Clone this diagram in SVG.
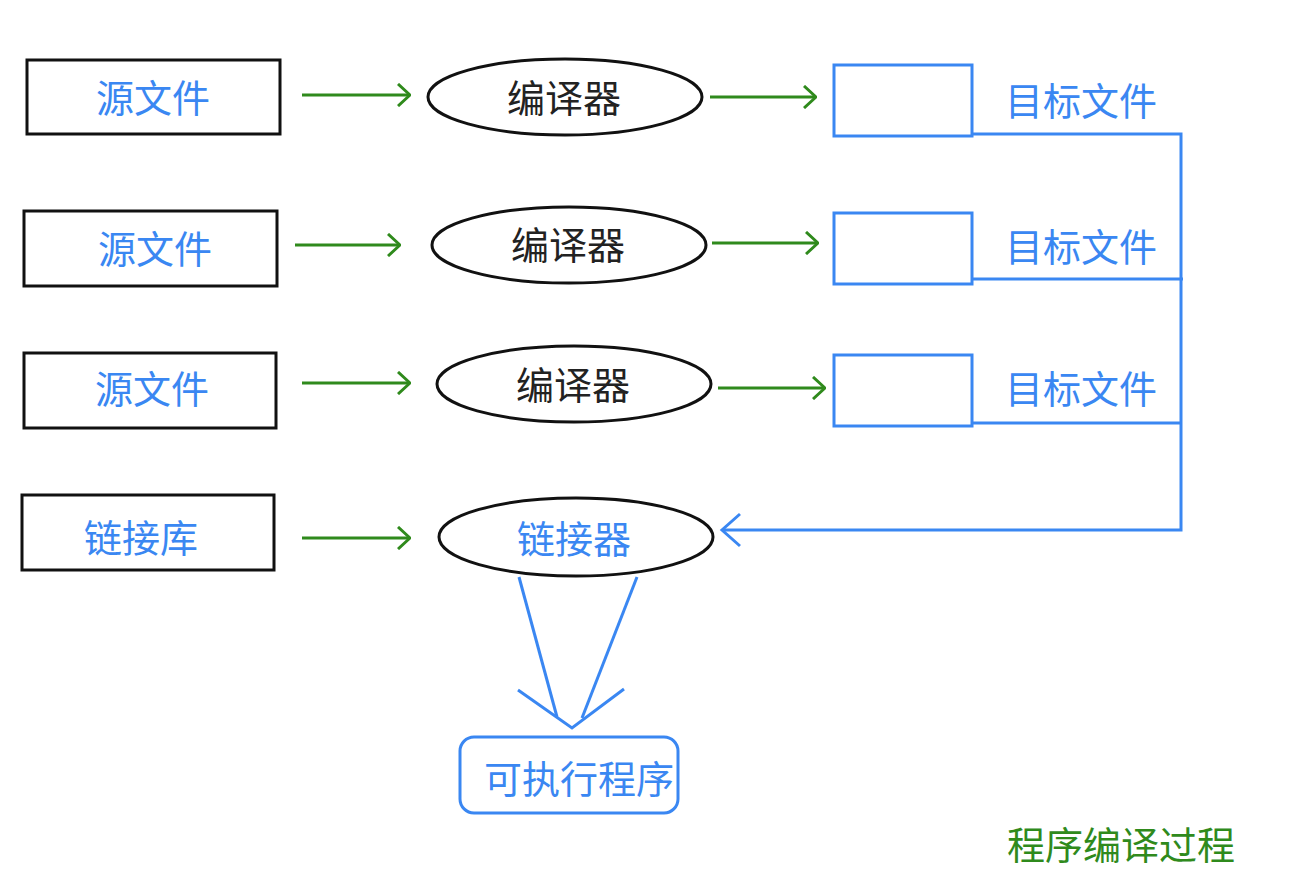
<svg xmlns="http://www.w3.org/2000/svg" width="1292" height="869" viewBox="0 0 1292 869">
<style>
.src{fill:#fff;stroke:#111;stroke-width:3}
.ell{fill:#fff;stroke:#111;stroke-width:3}
.obj{fill:#fff;stroke:#3a87f2;stroke-width:3}
.t{font-family:"Noto Sans CJK SC",sans-serif;font-size:38px;text-anchor:middle;dominant-baseline:central}
.blue{fill:#3a87f2}
.dark{fill:#222}
.green{fill:#2f8a1c}
.g{stroke:#2f8a1c;stroke-width:3;fill:none}
.b{stroke:#3a87f2;stroke-width:3;fill:none}
</style>
<defs>
<marker id="ga" viewBox="0 0 14 24" refX="13" refY="12" markerWidth="14" markerHeight="24" markerUnits="userSpaceOnUse" orient="auto">
<polyline points="1,1 13,12 1,23" fill="none" stroke="#2f8a1c" stroke-width="3"/>
</marker>
</defs>
<rect width="1292" height="869" fill="#fff"/>
<g id="connectors">
<line class="g" x1="302" y1="95" x2="410" y2="95" marker-end="url(#ga)"/>
<line class="g" x1="295" y1="245" x2="400" y2="245" marker-end="url(#ga)"/>
<line class="g" x1="302" y1="383" x2="410" y2="383" marker-end="url(#ga)"/>
<line class="g" x1="302" y1="538" x2="410" y2="538" marker-end="url(#ga)"/>
<line class="g" x1="710" y1="97" x2="816" y2="97" marker-end="url(#ga)"/>
<line class="g" x1="712" y1="243" x2="818" y2="243" marker-end="url(#ga)"/>
<line class="g" x1="718" y1="388" x2="825" y2="388" marker-end="url(#ga)"/>
<polyline class="b" points="972,134 1181,134 1181,530 722,530"/>
<line class="b" x1="972" y1="279" x2="1183" y2="279"/>
<line class="b" x1="972" y1="423" x2="1181" y2="423"/>
<polyline class="b" points="740,514 722,530 740,546"/>
<line class="b" x1="519" y1="577" x2="557" y2="717"/>
<line class="b" x1="637" y1="577" x2="582" y2="718"/>
<polyline class="b" points="518,690 572,728 624,689"/>
</g>
<g id="src1"><rect class="src" x="27" y="60" width="253" height="74"/><text class="t blue" x="153" y="95">源文件</text></g>
<g id="src2"><rect class="src" x="24" y="211" width="253" height="75"/><text class="t blue" x="155" y="246">源文件</text></g>
<g id="src3"><rect class="src" x="24" y="353" width="252" height="75"/><text class="t blue" x="152" y="386">源文件</text></g>
<g id="lib"><rect class="src" x="22" y="495" width="252" height="75"/><text class="t blue" x="141" y="535">链接库</text></g>
<g id="comp1"><ellipse class="ell" cx="565" cy="97" rx="137" ry="38"/><text class="t dark" x="564" y="95">编译器</text></g>
<g id="comp2"><ellipse class="ell" cx="569" cy="245" rx="137" ry="38"/><text class="t dark" x="568" y="242">编译器</text></g>
<g id="comp3"><ellipse class="ell" cx="574" cy="384" rx="137" ry="38"/><text class="t dark" x="573" y="382">编译器</text></g>
<g id="linker"><ellipse class="ell" cx="576" cy="537" rx="137" ry="39"/><text class="t blue" x="574" y="536">链接器</text></g>
<g id="obj1"><rect class="obj" x="834" y="65" width="138" height="71"/><text class="t blue" x="1081" y="98">目标文件</text></g>
<g id="obj2"><rect class="obj" x="834" y="213" width="138" height="71"/><text class="t blue" x="1081" y="244">目标文件</text></g>
<g id="obj3"><rect class="obj" x="834" y="355" width="138" height="71"/><text class="t blue" x="1081" y="386">目标文件</text></g>
<g id="exe"><rect class="obj" x="460" y="737" width="218" height="76" rx="14"/><text class="t blue" x="579" y="776">可执行程序</text></g>
<g id="title"><text class="t green" x="1121" y="842">程序编译过程</text></g>
</svg>
